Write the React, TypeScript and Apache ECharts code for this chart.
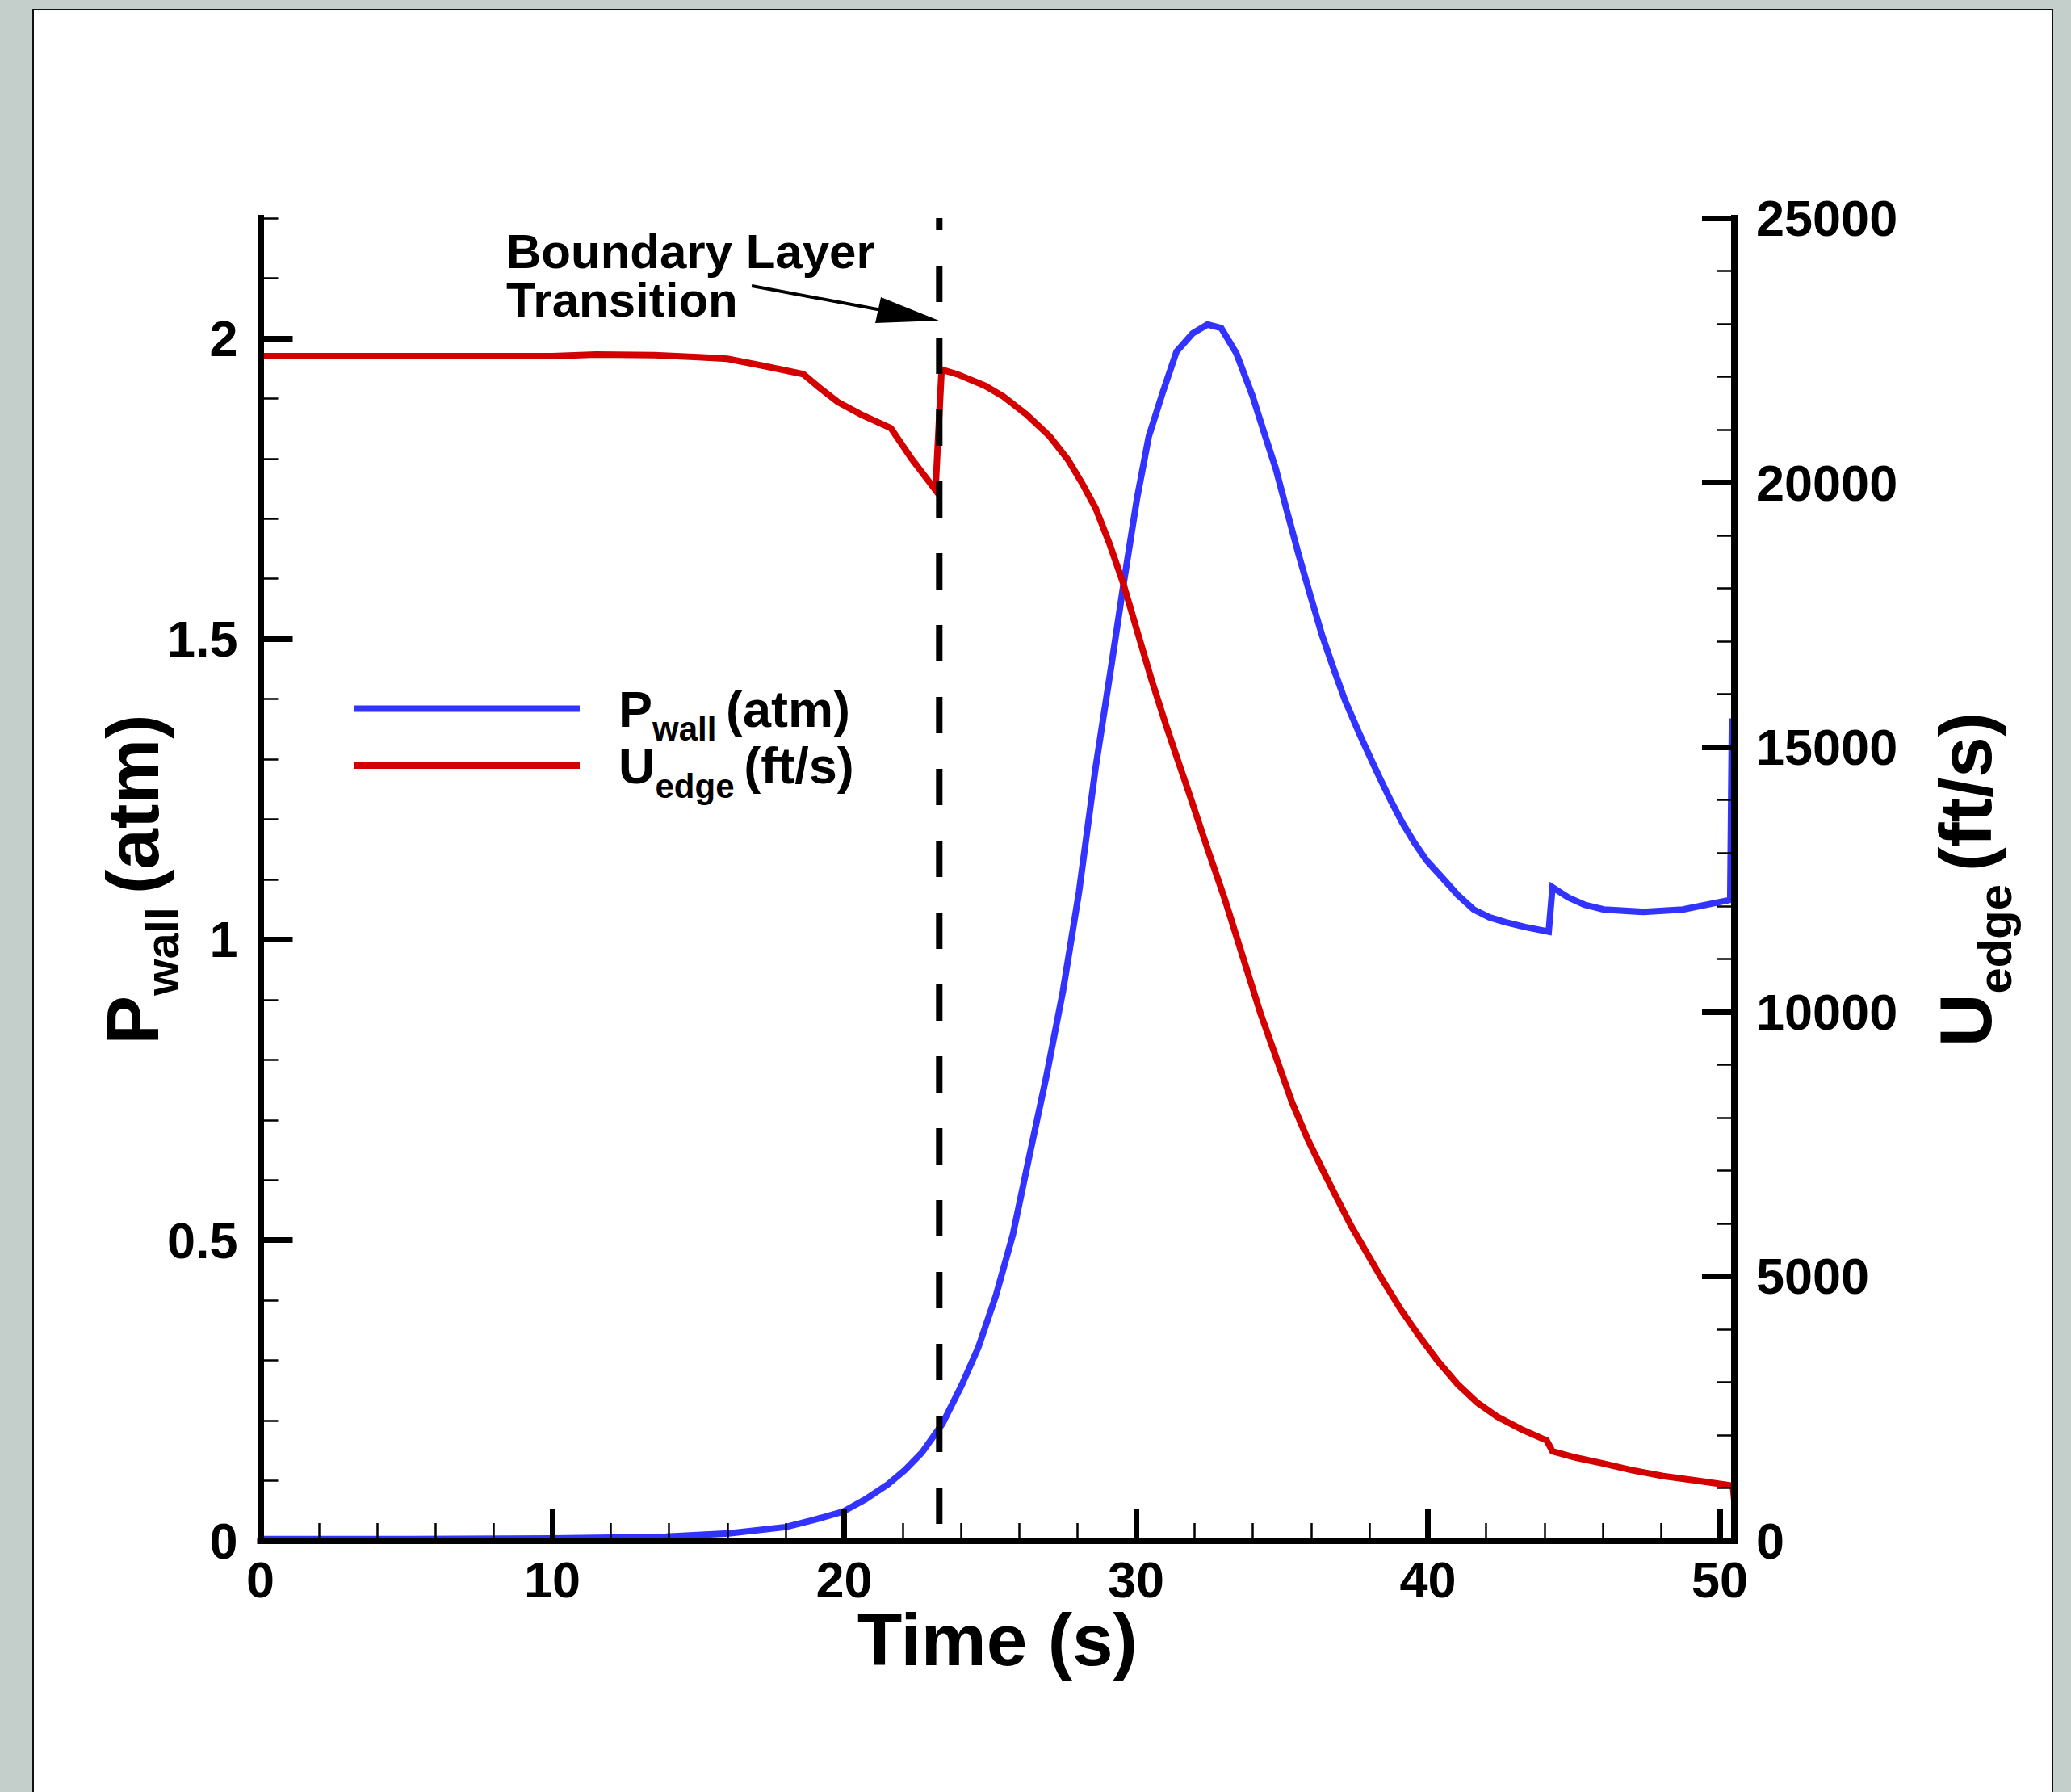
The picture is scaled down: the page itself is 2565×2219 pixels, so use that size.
import React, { useEffect, useRef } from 'react';
import * as echarts from 'echarts';

const FONT = '"Liberation Sans", Arial, Helvetica, sans-serif';
const BLUE = '#3333FF';
const RED = '#D40000';

const P_NAME = 'P_wall (atm)';
const U_NAME = 'U_edge (ft/s)';

// Wall pressure (atm) vs time (s)
const timeP = [0, 5, 10, 12, 13.9, 16.05, 18.0, 18.98, 19.96, 20.73, 21.5, 22.09, 22.67, 23.37, 24.03, 24.6, 25.2, 25.78, 26.36, 26.94, 27.5, 28.05, 28.62, 29.17, 29.57, 30.04, 30.44, 30.91, 31.39, 31.94, 32.45, 32.92, 33.44, 34.0, 34.39, 34.79, 35.18, 35.58, 35.97, 36.37, 36.76, 37.16, 37.65, 37.92, 38.32, 38.73, 39.13, 39.54, 39.95, 40.49, 41.03, 41.57, 42.11, 42.65, 43.33, 44.14, 44.27, 44.81, 45.36, 46.03, 47.38, 48.74, 50.36, 50.42];
const pWall = [0.003, 0.003, 0.004, 0.0055, 0.007, 0.0125, 0.023, 0.035, 0.0485, 0.069, 0.094, 0.118, 0.147, 0.195, 0.259, 0.322, 0.408, 0.509, 0.643, 0.775, 0.915, 1.08, 1.287, 1.46, 1.59, 1.735, 1.837, 1.909, 1.978, 2.008, 2.023, 2.017, 1.975, 1.903, 1.843, 1.783, 1.711, 1.639, 1.573, 1.507, 1.452, 1.398, 1.343, 1.314, 1.272, 1.231, 1.194, 1.161, 1.132, 1.103, 1.074, 1.05, 1.037, 1.029, 1.021, 1.013, 1.087, 1.07, 1.058, 1.05, 1.046, 1.05, 1.066, 1.368];

// Edge velocity (ft/s) vs time (s)
const timeU = [0, 5, 10, 11.5, 13.5, 15, 16, 17.3, 18.6, 19.14, 19.78, 20.57, 21.6, 22.3, 23.13, 23.34, 23.88, 24.83, 25.46, 26.25, 27.04, 27.67, 28.15, 28.62, 29.1, 29.57, 30.04, 30.52, 30.99, 31.43, 31.83, 32.44, 33.05, 33.66, 34.27, 34.81, 35.35, 35.89, 36.43, 36.9, 37.38, 37.92, 38.46, 39.07, 39.68, 40.35, 41.03, 41.7, 42.38, 43.19, 44.07, 44.27, 45.08, 46.03, 46.98, 48.06, 49.28, 50.45, 50.5];
const uEdge = [22390, 22390, 22390, 22420, 22410, 22370, 22340, 22200, 22050, 21800, 21525, 21290, 21030, 20460, 19857, 22137, 22048, 21830, 21627, 21285, 20876, 20433, 19991, 19513, 18834, 18083, 17196, 16300, 15480, 14760, 14110, 13100, 12114, 11038, 9963, 9122, 8281, 7580, 6973, 6459, 5945, 5430, 4918, 4374, 3889, 3393, 2953, 2608, 2347, 2112, 1897, 1693, 1572, 1459, 1337, 1225, 1132, 1040, 760];

const transitionTime = 23.26;

const xMajorTicks = [0, 10, 20, 30, 40, 50];
const xMinorTicks = [2, 4, 6, 8, 12, 14, 16, 18, 22, 24, 26, 28, 32, 34, 36, 38, 42, 44, 46, 48];
const pMajorTicks = [0, 0.5, 1, 1.5, 2];
const pMinorTicks = [0.1, 0.2, 0.3, 0.4, 0.6, 0.7, 0.8, 0.9, 1.1, 1.2, 1.3, 1.4, 1.6, 1.7, 1.8, 1.9, 2.1, 2.2];

const X_MAX = 50.5;
const P_MAX = 2.2;
const U_MAX = 25000;
const U_STEP = 5000;

const labelStyle = { color: '#000', fontSize: 63, fontWeight: 'bold', fontFamily: FONT };
const titleRich = {
  m: { fontSize: 91, lineHeight: 130, fontWeight: 'bold', fontFamily: FONT, color: '#000' },
  s: { fontSize: 58, lineHeight: 58, verticalAlign: 'bottom', fontWeight: 'bold', fontFamily: FONT, color: '#000' },
};

export default function App() {
  const ref = useRef<HTMLDivElement>(null);
  useEffect(() => {
    const chart = echarts.init(ref.current as HTMLDivElement, null, { renderer: 'svg' });
    const option: any = {
      animation: false,
      backgroundColor: 'transparent',
      grid: { left: 322.5, right: 417, top: 270, bottom: 311, containLabel: false },
      legend: {
        orient: 'vertical',
        left: 439,
        top: 846,
        padding: 0,
        itemGap: -7,
        itemWidth: 279,
        itemHeight: 8,
        icon: 'rect',
        selectedMode: false,
        data: [
          { name: P_NAME, itemStyle: { color: BLUE } },
          { name: U_NAME, itemStyle: { color: RED } },
        ],
        formatter: (name: string) =>
          name === P_NAME ? '{m|P}{s|wall }{m|(atm)}' : '{m|U}{s|edge }{m|(ft/s)}',
        textStyle: {
          color: '#000',
          fontFamily: FONT,
          fontWeight: 'bold',
          padding: [0, 0, 0, 43],
          rich: {
            m: { fontSize: 63, lineHeight: 92, fontWeight: 'bold', fontFamily: FONT, color: '#000' },
            s: { fontSize: 42, lineHeight: 42, verticalAlign: 'bottom', fontWeight: 'bold', fontFamily: FONT, color: '#000' },
          },
        },
      },
      xAxis: [
        {
          type: 'value', min: 0, max: X_MAX, position: 'bottom', z: 5,
          axisLine: { show: true, onZero: false, lineStyle: { color: '#000', width: 8, cap: 'square' } },
          axisTick: { show: true, inside: true, length: 40, customValues: xMajorTicks, lineStyle: { color: '#000', width: 7 } },
          axisLabel: { ...labelStyle, customValues: xMajorTicks, margin: 16, formatter: (v: number) => String(v) },
          splitLine: { show: false },
          name: 'Time (s)', nameLocation: 'middle', nameGap: 77, nameMoveOverlap: false,
          nameTextStyle: { fontSize: 91, fontWeight: 'bold', fontFamily: FONT, color: '#000' },
        },
        {
          type: 'value', min: 0, max: X_MAX, position: 'bottom', z: 5,
          axisLine: { show: false },
          axisTick: { show: true, inside: true, length: 22, customValues: xMinorTicks, lineStyle: { color: '#000', width: 2.5 } },
          axisLabel: { show: false },
          splitLine: { show: false },
        },
      ],
      yAxis: [
        {
          type: 'value', min: 0, max: P_MAX, position: 'left', z: 5,
          axisLine: { show: true, onZero: false, lineStyle: { color: '#000', width: 8, cap: 'square' } },
          axisTick: { show: true, inside: true, length: 40, customValues: pMajorTicks, lineStyle: { color: '#000', width: 7 } },
          axisLabel: { ...labelStyle, customValues: pMajorTicks, margin: 28, formatter: (v: number) => String(v) },
          splitLine: { show: false },
          name: '{m|P}{s|wall }{m|(atm)}', nameLocation: 'middle', nameGap: 93, nameRotate: 90, nameMoveOverlap: false,
          nameTextStyle: { rich: titleRich },
        },
        {
          type: 'value', min: 0, max: U_MAX, interval: U_STEP, position: 'right', z: 5,
          axisLine: { show: true, onZero: false, lineStyle: { color: '#000', width: 8, cap: 'square' } },
          axisTick: { show: true, inside: true, length: 40, lineStyle: { color: '#000', width: 7 } },
          minorTick: { show: true, splitNumber: 5, length: 22, lineStyle: { color: '#000', width: 2.5 } },
          axisLabel: { ...labelStyle, margin: 27, formatter: (v: number) => String(v) },
          splitLine: { show: false },
          minorSplitLine: { show: false },
          name: '{m|U}{s|edge }{m|(ft/s)}', nameLocation: 'middle', nameGap: 221, nameRotate: 90, nameMoveOverlap: false,
          nameTextStyle: { rich: titleRich },
        },
        {
          type: 'value', min: 0, max: P_MAX, position: 'left', z: 5,
          axisLine: { show: false },
          axisTick: { show: true, inside: true, length: 22, customValues: pMinorTicks, lineStyle: { color: '#000', width: 2.5 } },
          axisLabel: { show: false },
          splitLine: { show: false },
        },
      ],
      series: [
        {
          type: 'line', name: P_NAME, xAxisIndex: 0, yAxisIndex: 0,
          data: timeP.map((t, i) => [t, pWall[i]]),
          symbol: 'none', showSymbol: false, color: BLUE, z: 2,
          lineStyle: { width: 8, color: BLUE, join: 'miter' },
        },
        {
          type: 'line', name: U_NAME, xAxisIndex: 0, yAxisIndex: 1,
          data: timeU.map((t, i) => [t, uEdge[i]]),
          symbol: 'none', showSymbol: false, color: RED, z: 3,
          lineStyle: { width: 8, color: RED, join: 'miter' },
        },
        {
          type: 'line', name: 'transition', xAxisIndex: 0, yAxisIndex: 0,
          data: [[transitionTime, 0], [transitionTime, P_MAX]],
          symbol: 'none', showSymbol: false, silent: true, z: 4, color: '#000',
          lineStyle: { width: 8, color: '#000', type: [45, 44], dashOffset: 68, cap: 'butt' },
        },
      ],
      graphic: [
        {
          type: 'text', x: 627, y: 283, z: 10,
          style: {
            text: 'Boundary Layer',
            fontSize: 60, fontWeight: 'bold', fontFamily: FONT, lineHeight: 56,
            fill: '#000', align: 'left', verticalAlign: 'top',
          },
        },
        {
          type: 'text', x: 627, y: 343, z: 10,
          style: {
            text: 'Transition',
            fontSize: 60, fontWeight: 'bold', fontFamily: FONT, lineHeight: 56,
            fill: '#000', align: 'left', verticalAlign: 'top',
          },
        },
        {
          type: 'line', z: 10,
          shape: { x1: 931, y1: 354, x2: 1092, y2: 384 },
          style: { stroke: '#000', lineWidth: 4 },
        },
        {
          type: 'polygon', z: 10,
          shape: { points: [[1091, 368], [1084, 400], [1163, 397]] },
          style: { fill: '#000' },
        },
      ],
    };
    chart.setOption(option);
    return () => chart.dispose();
  }, []);

  return (
    <div style={{ position: 'absolute', left: 0, top: 0, width: 2565, height: 2219, background: '#C4CFCB', overflow: 'hidden' }}>
      <div style={{ position: 'absolute', left: 40, top: 11, width: 2503, height: 2300, background: '#fff', border: '2px solid #111', boxSizing: 'border-box' }} />
      <div ref={ref} style={{ position: 'absolute', left: 0, top: 0, width: 2565, height: 2219 }} />
    </div>
  );
}
